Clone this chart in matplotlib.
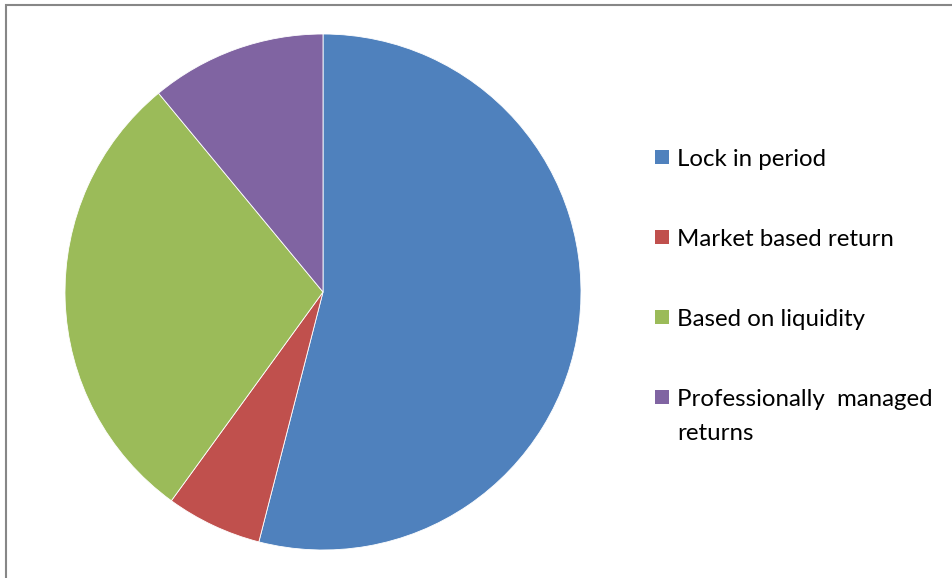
import matplotlib.pyplot as plt
from matplotlib.patches import Rectangle

labels = ['Lock in period', 'Market based return', 'Based on liquidity',
          'Professionally  managed\nreturns']
shares = [54, 6, 29, 11]
colors = ['#4F81BD', '#C0504D', '#9BBB59', '#8064A2']

plt.rcParams['font.family'] = ['Lato', 'DejaVu Sans']

W, H = 952, 578
fig = plt.figure(figsize=(W / 100, H / 100), dpi=100)

# pie area: centre ~ (323, 292) px, radius ~258 px
ax = fig.add_axes([65 / W, 28 / H, 516 / W, 516 / H])
wedges, _ = ax.pie(shares, colors=colors, startangle=90, counterclock=False,
                   wedgeprops=dict(edgecolor='white', linewidth=0.6))
ax.set_xlim(-1, 1)
ax.set_ylim(-1, 1)
ax.set_aspect('equal')

# legend drawn by hand so the marker sits on the first line of a wrapped label
for i, (lab, col) in enumerate(zip(labels, colors)):
    yc = 157 + 80 * i
    fig.add_artist(Rectangle((655 / W, 1 - (yc + 7) / H), 14 / W, 14 / H,
                             transform=fig.transFigure, facecolor=col,
                             edgecolor='none'))
    for j, line in enumerate(lab.split('\n')):
        fig.text(677 / W, 1 - (yc + 34 * j) / H, line, fontsize=17.3,
                 va='center_baseline', ha='left', color='black')

# thin grey frame along top and left edge
fig.add_artist(Rectangle((5.5 / W, -0.1), 1.2, 1 - 5.5 / H + 0.1,
                         transform=fig.transFigure, fill=False,
                         edgecolor='#878787', linewidth=1.5))

fig.savefig('out.png', dpi=100)
